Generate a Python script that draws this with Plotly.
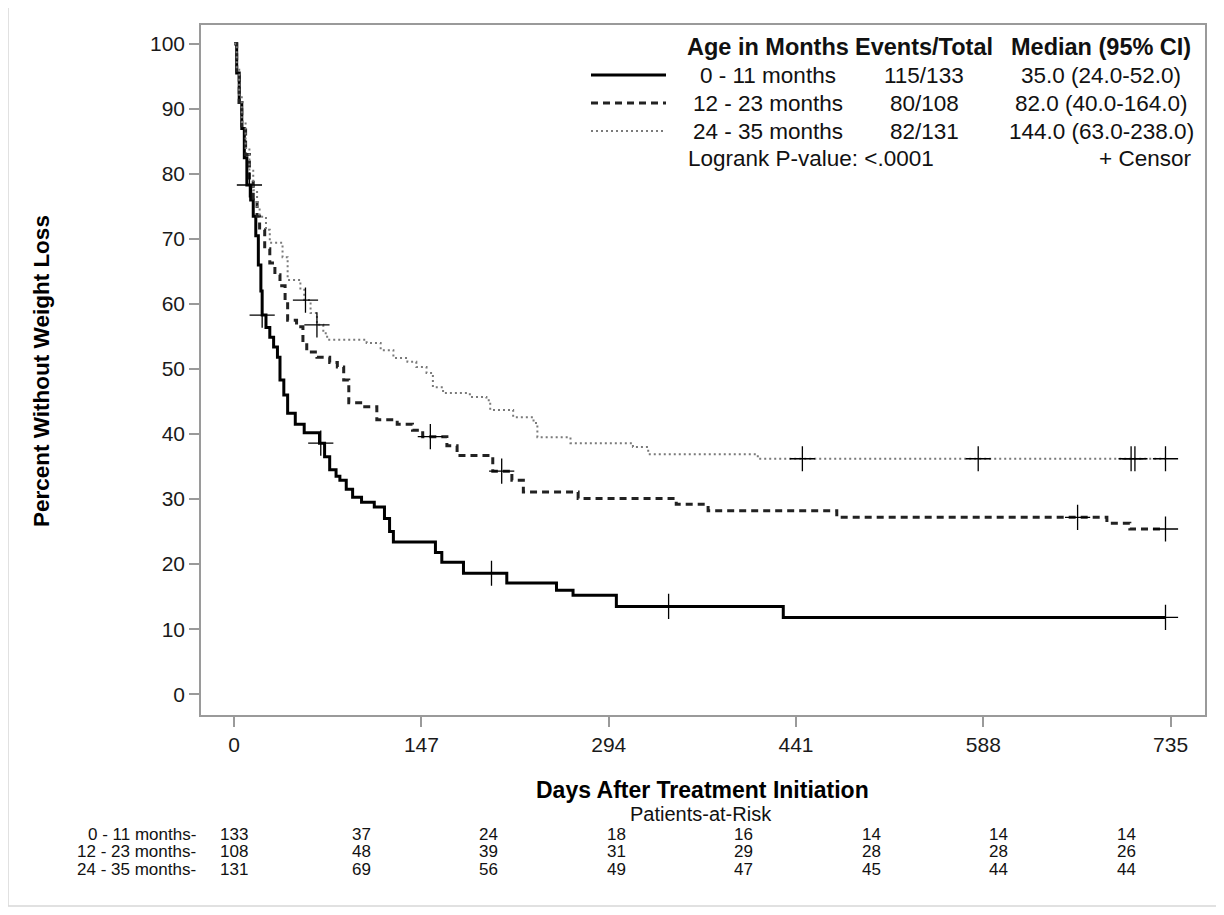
import plotly.graph_objects as go
import numpy as np

# ---------------- data ----------------
groups = ["0 - 11 months", "12 - 23 months", "24 - 35 months"]
events_total = ["115/133", "80/108", "82/131"]
medians = ["35.0 (24.0-52.0)", "82.0 (40.0-164.0)", "144.0 (63.0-238.0)"]

t_g1 = [0, 2, 4, 6, 8, 10, 13, 15, 17, 19, 21, 22, 25, 28, 31, 34, 36, 39, 42, 48, 55, 67, 71, 75, 80, 83, 88, 93,
        100, 110, 118, 122, 125, 158, 163, 180, 214, 253, 266, 300, 431, 731]
s_g1 = [100, 95.5, 91, 87, 82.5, 78.3, 76, 73.5, 70.5, 66, 62, 58.3, 56.4, 54.9, 53.4, 51.8, 48.3, 46, 43.2, 41.5, 40.2,
        38.6, 36.5, 34.5, 33.5, 32.9, 31.5, 30.3, 29.5, 28.8, 27, 25, 23.4, 21.8, 20.3, 18.6, 17.1, 16.0, 15.2, 13.5,
        11.8, 11.8]

t_g2 = [0, 2, 4, 6, 9, 12, 15, 18, 20, 24, 28, 32, 36, 40, 42, 49, 54, 57, 65, 75, 81, 86, 90, 101, 112, 128, 140,
        148, 167, 175, 203, 218, 227, 270, 347, 372, 473, 685, 703, 731]
s_g2 = [100, 95.5, 91, 87, 83, 79, 76, 73.5, 71.4, 68.5, 66.3, 64.5, 62.8, 60.6, 57.5, 56.5, 54, 52.6, 51.8, 51, 50.3,
        48.3, 44.8, 44.2, 42.2, 41.5, 40.6, 39.6, 38.2, 36.7, 34.3, 32.9, 31.1, 30.1, 29.2, 28.2, 27.2, 26.3, 25.4, 25.4]

t_g3 = [0, 2, 4, 6, 9, 12, 15, 18, 20, 25, 28, 38, 42, 52, 55, 60, 65, 70, 73, 104, 115, 125, 136, 143, 151, 156, 164,
        185, 198, 201, 219, 235, 238, 264, 313, 325, 411, 731]
s_g3 = [100, 96, 92, 88, 84, 80.5, 77.5, 75, 73.4, 71.4, 69.4, 67.2, 63.7, 62.2, 60.6, 58.6, 56.8, 55.5, 54.5, 54,
        52.9, 51.7, 51.1, 50.3, 49.4, 47.2, 46.3, 45.7, 45.2, 43.7, 42.6, 41.7, 39.5, 38.6, 38, 36.9, 36.2, 36.2]

cens_g1 = [12, 22, 68, 202, 341, 731]
cens_g2 = [154, 210, 662, 731]
cens_g3 = [56, 65, 446, 584, 704, 707, 731]

risk_times = [0, 100, 200, 300, 400, 500, 600, 700]
risk_g1 = [133, 37, 24, 18, 16, 14, 14, 14]
risk_g2 = [108, 48, 39, 31, 29, 28, 28, 26]
risk_g3 = [131, 69, 56, 49, 47, 45, 44, 44]

x_ticks = [0, 147, 294, 441, 588, 735]
y_ticks = [0, 10, 20, 30, 40, 50, 60, 70, 80, 90, 100]

# ---------------- style ----------------
OFF = 8                      # page body margin of the html page
W, H = 1224 - OFF, 915 - OFF
L, R, T, B = 201, 1205, 25, 715   # plot frame in screen pixels
FONT = "Liberation Sans, Arial, sans-serif"
styles = [dict(color="black", width=3, dash="solid"),
          dict(color="#222222", width=3, dash="7px,5px"),
          dict(color="#7a7a7a", width=2, dash="2px,3px")]


def px(x):
    return (x - L) / (R - L)


def py(y):
    return (B - y) / (B - T)


def step_at(ts, ss, t):
    i = np.searchsorted(np.array(ts), t, side="right") - 1
    return ss[max(i, 0)]


fig = go.Figure()
series = [(t_g1, s_g1, cens_g1), (t_g2, s_g2, cens_g2), (t_g3, s_g3, cens_g3)]
for (ts, ss, cs), st, name in zip(series, styles, groups):
    fig.add_trace(go.Scatter(x=ts, y=ss, mode="lines", line=dict(shape="hv", **st),
                             name=name, showlegend=False, hoverinfo="skip"))
for (ts, ss, cs), name in zip(series, groups):
    fig.add_trace(go.Scatter(x=cs, y=[step_at(ts, ss, c) for c in cs], mode="markers",
                             marker=dict(symbol="cross-thin", size=18, line=dict(color="black", width=1.3)),
                             showlegend=False, hoverinfo="skip"))

fig.update_layout(
    width=W, height=H,
    margin=dict(l=L - OFF, r=W - (R - OFF), t=T - OFF, b=H - (B - OFF), pad=0),
    paper_bgcolor="white", plot_bgcolor="white",
    font=dict(family=FONT, size=21, color="#1a1a1a"),
    showlegend=False,
)
fig.update_xaxes(range=[-26, 762], tickvals=x_ticks, ticktext=[str(v) for v in x_ticks],
                 showgrid=False, zeroline=False, showline=True, mirror=True, linecolor="#9a9a9a", linewidth=1.5,
                 ticks="outside", ticklen=10, tickcolor="#9a9a9a", tickwidth=1.5,
                 tickfont=dict(size=21, family=FONT, color="#1a1a1a"))
fig.update_yaxes(range=[-3.2, 102.9], tickvals=y_ticks, ticktext=[str(v) for v in y_ticks],
                 showgrid=False, zeroline=False, showline=True, mirror=True, linecolor="#9a9a9a", linewidth=1.5,
                 ticks="outside", ticklen=10, tickcolor="#9a9a9a", tickwidth=1.5,
                 tickfont=dict(size=21, family=FONT, color="#1a1a1a"))

ann = []
shapes = []
# page border
shapes.append(dict(type="rect", xref="paper", yref="paper", x0=px(8), x1=px(1219), y0=py(906), y1=py(7),
                   line=dict(color="#d8d8d8", width=1.5), fillcolor="rgba(0,0,0,0)", layer="below"))

# axis titles
ann.append(dict(text="<b>Percent Without Weight Loss</b>", xref="paper", yref="paper", x=px(42), y=py(371),
                textangle=-90, showarrow=False, font=dict(size=22.5, family=FONT, color="black"),
                xanchor="center", yanchor="middle"))
ann.append(dict(text="<b>Days After Treatment Initiation</b>", xref="paper", yref="paper", x=px(702), y=py(790),
                showarrow=False, font=dict(size=23, family=FONT, color="black"),
                xanchor="center", yanchor="middle"))
ann.append(dict(text="Patients-at-Risk", xref="paper", yref="paper", x=px(701), y=py(814),
                showarrow=False, font=dict(size=20, family=FONT, color="#111"),
                xanchor="center", yanchor="middle"))

# risk table
row_y = [834, 851.5, 869]
RF = dict(size=17, family=FONT, color="#111")
for g, counts, yy in zip(groups, [risk_g1, risk_g2, risk_g3], row_y):
    ann.append(dict(text=g + "-", xref="paper", yref="paper", x=px(198), y=py(yy), showarrow=False,
                    font=RF, xanchor="right", yanchor="middle"))
    for tt, c in zip(risk_times, counts):
        ann.append(dict(text=str(c), xref="x", yref="paper", x=tt, y=py(yy), showarrow=False,
                        font=RF, xanchor="center", yanchor="middle"))

# legend block
LF = dict(size=22.5, family=FONT, color="#111")
LFB = dict(size=23.5, family=FONT, color="#111")
hdr_y = 47
cols = [768, 924, 1101]
headers = ["Age in Months", "Events/Total", "Median (95% CI)"]
for cx, h in zip(cols, headers):
    ann.append(dict(text="<b>" + h + "</b>", xref="paper", yref="paper", x=px(cx), y=py(hdr_y), showarrow=False,
                    font=LFB, xanchor="center", yanchor="middle"))
rows_y = [75, 103, 131]
for i, yy in enumerate(rows_y):
    for cx, txt in zip(cols, [groups[i], events_total[i], medians[i]]):
        ann.append(dict(text=txt, xref="paper", yref="paper", x=px(cx), y=py(yy), showarrow=False,
                        font=LF, xanchor="center", yanchor="middle"))
    st = styles[i]
    shapes.append(dict(type="line", xref="paper", yref="paper", x0=px(591), x1=px(666), y0=py(yy), y1=py(yy),
                       line=dict(color=st["color"], width=st["width"], dash=st["dash"])))
ann.append(dict(text="Logrank P-value: <.0001", xref="paper", yref="paper", x=px(686), y=py(159), showarrow=False,
                font=LF, xanchor="left", yanchor="middle"))
ann.append(dict(text="+ Censor", xref="paper", yref="paper", x=px(1193), y=py(159), showarrow=False,
                font=LF, xanchor="right", yanchor="middle"))

fig.update_layout(annotations=ann, shapes=shapes)
fig.write_html("out.html")
